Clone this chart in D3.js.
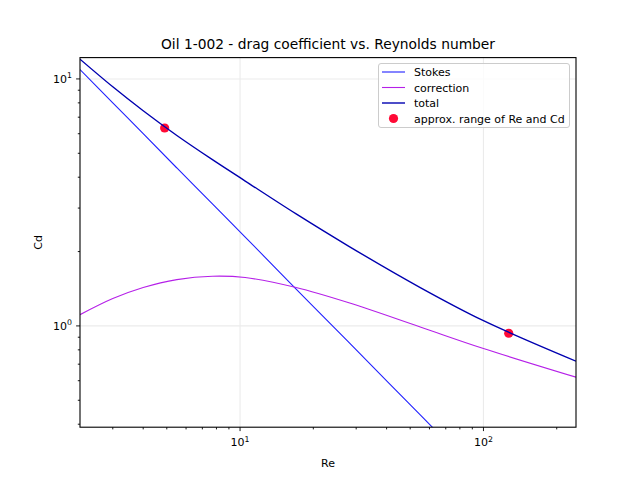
<!DOCTYPE html>
<html>
<head>
<meta charset="utf-8">
<script src="https://cdn.jsdelivr.net/npm/d3@7"></script>
<style>
  html, body { margin: 0; padding: 0; background: #fff; }
  svg text { font-family: "DejaVu Sans", sans-serif; fill: #000; }
</style>
</head>
<body>
<div id="chart"></div>
<script>
// Values (log-log)
const reValues = [2.2, 3, 4, 5.5, 7.7, 10.5, 17, 28, 55, 100, 240];
const stokesValues = [10.91, 8.0, 6.0, 4.36, 3.12, 2.29, 1.41, 0.857, 0.436, 0.24, 0.1];
const correctionValues = [1.11, 1.29, 1.43, 1.54, 1.59, 1.57, 1.43, 1.24, 0.99, 0.81, 0.62];
const totalValues = [12.02, 9.29, 7.43, 5.90, 4.71, 3.86, 2.84, 2.10, 1.43, 1.05, 0.72];

const rangeRe = [4.9, 127];
const rangeCd = [6.33, 0.934];

const xMajor = [10, 100];
const xMinor = [3, 4, 5, 6, 7, 8, 9, 20, 30, 40, 50, 60, 70, 80, 90, 200];
const yMajor = [1, 10];
const yMinor = [0.4, 0.5, 0.6, 0.7, 0.8, 0.9, 2, 3, 4, 5, 6, 7, 8, 9];

const seriesNames = ["Stokes", "correction", "total"];
const scatterName = "approx. range of Re and Cd";

const width = 640, height = 480;
const margin = { left: 80, right: 64, top: 57.6, bottom: 52.8 };

const colStokes = "#2020ff";
const colCorr = "#b520e8";
const colTotal = "#0000b0";
const colDot = "#ff0a36";

const svg = d3.select("#chart").append("svg")
  .attr("width", width).attr("height", height);

const x = d3.scaleLog().domain([2.2, 240]).range([margin.left, width - margin.right]);
const y = d3.scaleLog().domain([0.389, 12.2]).range([height - margin.bottom, margin.top]);

// clip
svg.append("clipPath").attr("id", "plotclip").append("rect")
  .attr("x", margin.left).attr("y", margin.top)
  .attr("width", width - margin.left - margin.right)
  .attr("height", height - margin.top - margin.bottom);

// grid
const grid = svg.append("g").attr("stroke", "#ebebeb").attr("stroke-width", 1.1);
xMajor.forEach(v => grid.append("line")
  .attr("x1", x(v)).attr("x2", x(v)).attr("y1", margin.top).attr("y2", height - margin.bottom));
yMajor.forEach(v => grid.append("line")
  .attr("y1", y(v)).attr("y2", y(v)).attr("x1", margin.left).attr("x2", width - margin.right));

const plot = svg.append("g").attr("clip-path", "url(#plotclip)");

const line = d3.line()
  .x((d, i) => x(reValues[i]))
  .y(d => y(d))
  .curve(d3.curveCatmullRom.alpha(0.5));

// scatter below lines
plot.selectAll("circle.range")
  .data(rangeRe)
  .enter().append("circle")
  .attr("class", "range")
  .attr("cx", d => x(d))
  .attr("cy", (d, i) => y(rangeCd[i]))
  .attr("r", 4.6)
  .attr("fill", colDot);

plot.append("path").attr("d", line(stokesValues))
  .attr("fill", "none").attr("stroke", colStokes).attr("stroke-width", 1.1);
plot.append("path").attr("d", line(correctionValues))
  .attr("fill", "none").attr("stroke", colCorr).attr("stroke-width", 1.1);
plot.append("path").attr("d", line(totalValues))
  .attr("fill", "none").attr("stroke", colTotal).attr("stroke-width", 1.4);

// frame
svg.append("rect")
  .attr("x", margin.left).attr("y", margin.top)
  .attr("width", width - margin.left - margin.right)
  .attr("height", height - margin.top - margin.bottom)
  .attr("fill", "none").attr("stroke", "#000").attr("stroke-width", 1.1);

// ticks
const axisG = svg.append("g").attr("stroke", "#000").attr("stroke-width", 0.9);
const xb = height - margin.bottom;
xMajor.forEach(v => axisG.append("line").attr("x1", x(v)).attr("x2", x(v)).attr("y1", xb).attr("y2", xb + 3.9));
xMinor.forEach(v => axisG.append("line").attr("x1", x(v)).attr("x2", x(v)).attr("y1", xb).attr("y2", xb + 2.2));
yMajor.forEach(v => axisG.append("line").attr("y1", y(v)).attr("y2", y(v)).attr("x1", margin.left).attr("x2", margin.left - 3.9));
yMinor.forEach(v => axisG.append("line").attr("y1", y(v)).attr("y2", y(v)).attr("x1", margin.left).attr("x2", margin.left - 2.2));

function powLabel(sel, v) {
  const e = Math.round(Math.log10(v));
  sel.append("tspan").text("10");
  sel.append("tspan").attr("font-size", "7.8px").attr("dy", "-4.5").text(e);
}

xMajor.forEach(v => {
  const t = svg.append("text").attr("x", x(v)).attr("y", xb + 19)
    .attr("text-anchor", "middle").style("font-size", "11px");
  powLabel(t, v);
});
yMajor.forEach(v => {
  const t = svg.append("text").attr("x", margin.left - 8).attr("y", y(v) + 4)
    .attr("text-anchor", "end").style("font-size", "11px");
  powLabel(t, v);
});

// labels
svg.append("text").attr("x", (margin.left + width - margin.right) / 2).attr("y", 467)
  .attr("text-anchor", "middle").style("font-size", "11px").text("Re");
svg.append("text").attr("transform", `translate(42, ${(margin.top + height - margin.bottom) / 2}) rotate(-90)`)
  .attr("text-anchor", "middle").style("font-size", "11px").text("Cd");
svg.append("text").attr("x", (margin.left + width - margin.right) / 2).attr("y", 49)
  .attr("text-anchor", "middle").style("font-size", "13.8px")
  .text("Oil 1-002 - drag coefficient vs. Reynolds number");

// legend
const legend = svg.append("g");
legend.append("rect").attr("x", 378.5).attr("y", 63.5).attr("width", 191).attr("height", 64)
  .attr("rx", 2.5).attr("fill", "#fff").attr("fill-opacity", 0.8)
  .attr("stroke", "#cccccc").attr("stroke-width", 1);
const legCols = [colStokes, colCorr, colTotal];
const legW = [1.1, 1.1, 1.4];
seriesNames.forEach((name, i) => {
  const ly = 72 + i * 15.5;
  legend.append("line").attr("x1", 382).attr("x2", 405).attr("y1", ly).attr("y2", ly)
    .attr("stroke", legCols[i]).attr("stroke-width", legW[i]);
  legend.append("text").attr("x", 414).attr("y", ly + 4).style("font-size", "11px").text(name);
});
legend.append("circle").attr("cx", 393.5).attr("cy", 118.5).attr("r", 4.6).attr("fill", colDot);
legend.append("text").attr("x", 414).attr("y", 122.5).style("font-size", "11px").text(scatterName);
</script>
</body>
</html>
